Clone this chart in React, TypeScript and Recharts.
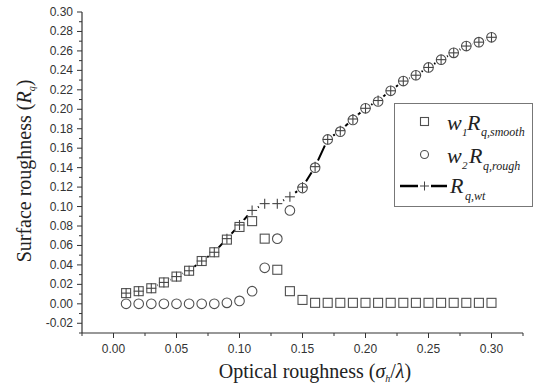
import React from "react";
import { ComposedChart, Line, XAxis, YAxis } from "recharts";

// optical roughness sigma_h / lambda
const xs = [
  0.01, 0.02, 0.03, 0.04, 0.05, 0.06, 0.07, 0.08, 0.09, 0.1,
  0.11, 0.12, 0.13, 0.14, 0.15, 0.16, 0.17, 0.18, 0.19, 0.2,
  0.21, 0.22, 0.23, 0.24, 0.25, 0.26, 0.27, 0.28, 0.29, 0.3,
];

// w1 Rq,smooth
const smooth = [
  0.011, 0.013, 0.016, 0.022, 0.028, 0.034, 0.044, 0.053, 0.066, 0.079,
  0.085, 0.067, 0.035, 0.013, 0.004, 0.001, 0.001, 0.001, 0.001, 0.001,
  0.001, 0.001, 0.001, 0.001, 0.001, 0.001, 0.001, 0.001, 0.001, 0.001,
];

// w2 Rq,rough
const rough = [
  0, 0, 0, 0, 0, 0, 0, 0, 0.001, 0.003,
  0.013, 0.037, 0.067, 0.096, 0.119, 0.14, 0.169, 0.177, 0.189, 0.201,
  0.208, 0.219, 0.229, 0.235, 0.243, 0.251, 0.258, 0.265, 0.269, 0.274,
];

// Rq,wt
const wt = [
  0.011, 0.013, 0.016, 0.022, 0.028, 0.034, 0.044, 0.053, 0.067, 0.081,
  0.096, 0.103, 0.103, 0.11, 0.12, 0.141, 0.169, 0.178, 0.19, 0.201,
  0.209, 0.219, 0.229, 0.235, 0.243, 0.251, 0.258, 0.265, 0.269, 0.274,
];

const yTicks = [
  -0.03, -0.02, -0.01, 0, 0.01, 0.02, 0.03, 0.04, 0.05, 0.06, 0.07, 0.08,
  0.09, 0.1, 0.11, 0.12, 0.13, 0.14, 0.15, 0.16, 0.17, 0.18, 0.19, 0.2,
  0.21, 0.22, 0.23, 0.24, 0.25, 0.26, 0.27, 0.28, 0.29, 0.3,
];

const xTicks = [
  -0.025, 0, 0.025, 0.05, 0.075, 0.1, 0.125, 0.15, 0.175, 0.2, 0.225, 0.25,
  0.275, 0.3, 0.325,
];

const data = xs.map((x, i) => ({ x, smooth: smooth[i], rough: rough[i], wt: wt[i] }));

const AXIS = "#333";
const MARK = "#505050";
const SANS = "Liberation Sans, Arial, sans-serif";
const SERIF = "Liberation Serif, Times New Roman, serif";

const YTick = (props: any) => {
  const { x, y, payload } = props;
  const v = payload.value;
  const major = Math.round(v * 100) % 2 === 0;
  return (
    <g>
      <line x1={x} x2={x - (major ? 5 : 3)} y1={y} y2={y} stroke={AXIS} strokeWidth={1} />
      {major && (
        <text x={x - 9} y={y} dy={4} textAnchor="end" fontSize={12} fill={AXIS} fontFamily={SANS}>
          {v.toFixed(2)}
        </text>
      )}
    </g>
  );
};

const XTick = (props: any) => {
  const { x, y, payload } = props;
  const v = payload.value;
  const major = Math.round(v * 1000) % 50 === 0;
  return (
    <g>
      <line x1={x} x2={x} y1={y} y2={y + (major ? 5 : 3)} stroke={AXIS} strokeWidth={1} />
      {major && (
        <text x={x} y={y + 20} textAnchor="middle" fontSize={12} fill={AXIS} fontFamily={SANS}>
          {v.toFixed(2)}
        </text>
      )}
    </g>
  );
};

const squareDot = (p: any) =>
  p.cx == null ? <g key={p.index} /> : (
    <rect key={p.index} x={p.cx - 4.5} y={p.cy - 4.5} width={9} height={9} fill="#fff" stroke={MARK} strokeWidth={1.1} />
  );

const circleDot = (p: any) =>
  p.cx == null ? <g key={p.index} /> : (
    <circle key={p.index} cx={p.cx} cy={p.cy} r={4.8} fill="#fff" stroke={MARK} strokeWidth={1.1} />
  );

// white disc under each Rq,wt point so the line stops short of the marker
const maskDot = (p: any) =>
  p.cx == null ? <g key={p.index} /> : <circle key={p.index} cx={p.cx} cy={p.cy} r={6.8} fill="#fff" />;

const plusDot = (p: any) =>
  p.cx == null ? <g key={p.index} /> : (
    <g key={p.index} stroke="#444" strokeWidth={1.1}>
      <line x1={p.cx - 5} x2={p.cx + 5} y1={p.cy} y2={p.cy} />
      <line x1={p.cx} x2={p.cx} y1={p.cy - 5} y2={p.cy + 5} />
    </g>
  );

export default function App() {
  return (
    <div style={{ position: "absolute", left: 0, top: 0, width: 537, height: 392, background: "#fff" }}>
      <ComposedChart width={537} height={392} data={data} margin={{ top: 12, right: 14, bottom: 0, left: 0 }}>
        <XAxis
          dataKey="x"
          type="number"
          domain={[-0.025, 0.325]}
          ticks={xTicks}
          interval={0}
          height={59}
          tickSize={0}
          tickMargin={0}
          tickLine={false}
          axisLine={{ stroke: AXIS, strokeWidth: 1.2 }}
          tick={<XTick />}
          allowDataOverflow
        />
        <YAxis
          type="number"
          domain={[-0.03, 0.3]}
          ticks={yTicks}
          interval={0}
          width={82}
          tickSize={0}
          tickMargin={0}
          tickLine={false}
          axisLine={{ stroke: AXIS, strokeWidth: 1.2 }}
          tick={<YTick />}
          allowDataOverflow
        />
        <Line dataKey="wt" type="linear" stroke="#000" strokeWidth={2} dot={false} activeDot={false} isAnimationActive={false} />
        <Line dataKey="wt" type="linear" stroke="none" dot={maskDot} activeDot={false} isAnimationActive={false} />
        <Line dataKey="smooth" type="linear" stroke="none" dot={squareDot} activeDot={false} isAnimationActive={false} />
        <Line dataKey="rough" type="linear" stroke="none" dot={circleDot} activeDot={false} isAnimationActive={false} />
        <Line dataKey="wt" type="linear" stroke="none" dot={plusDot} activeDot={false} isAnimationActive={false} />
      </ComposedChart>

      <svg width={537} height={392} style={{ position: "absolute", left: 0, top: 0, pointerEvents: "none" }}>
        {/* legend */}
        <rect x={394.5} y={103.5} width={138} height={103} fill="#fff" stroke="#777" strokeWidth={1} />
        <rect x={420.5} y={117.5} width={8} height={8} fill="#fff" stroke={MARK} strokeWidth={1.1} />
        <circle cx={424.5} cy={154.5} r={4} fill="#fff" stroke={MARK} strokeWidth={1.1} />
        <line x1={400} x2={418} y1={186} y2={186} stroke="#000" strokeWidth={2.5} />
        <line x1={431} x2={447} y1={186} y2={186} stroke="#000" strokeWidth={2.5} />
        <line x1={420} x2={429} y1={186} y2={186} stroke="#444" strokeWidth={1} />
        <line x1={424.5} x2={424.5} y1={181.5} y2={190.5} stroke="#444" strokeWidth={1} />
        <g fontFamily={SERIF} fontStyle="italic" fill="#222">
          <text x={447} y={130} fontSize={22}>w</text>
          <text x={462} y={136} fontSize={11}>1</text>
          <text x={467} y={130} fontSize={22}>R</text>
          <text x={481} y={136} fontSize={12}>q,smooth</text>
          <text x={447} y={163} fontSize={22}>w</text>
          <text x={462} y={169} fontSize={11}>2</text>
          <text x={469} y={163} fontSize={22}>R</text>
          <text x={483} y={170} fontSize={12}>q,rough</text>
          <text x={450} y={193} fontSize={22}>R</text>
          <text x={465} y={200} fontSize={12}>q,wt</text>
        </g>

        {/* axis titles */}
        <text x={315} y={378} textAnchor="middle" fontSize={20} fontFamily={SERIF} fill="#222">
          Optical roughness (<tspan fontStyle="italic">σ</tspan>
          <tspan fontStyle="italic" fontSize={10} dy={4}>h</tspan>
          <tspan dy={-4}>/</tspan>
          <tspan fontStyle="italic">λ</tspan>)
        </text>
        <text
          transform="translate(31,171) rotate(-90)"
          textAnchor="middle"
          fontSize={20}
          fontFamily={SERIF}
          fill="#222"
        >
          Surface roughness (<tspan fontStyle="italic">R</tspan>
          <tspan fontStyle="italic" fontSize={10} dy={4}>q</tspan>
          <tspan dy={-4}>)</tspan>
        </text>
      </svg>
    </div>
  );
}
